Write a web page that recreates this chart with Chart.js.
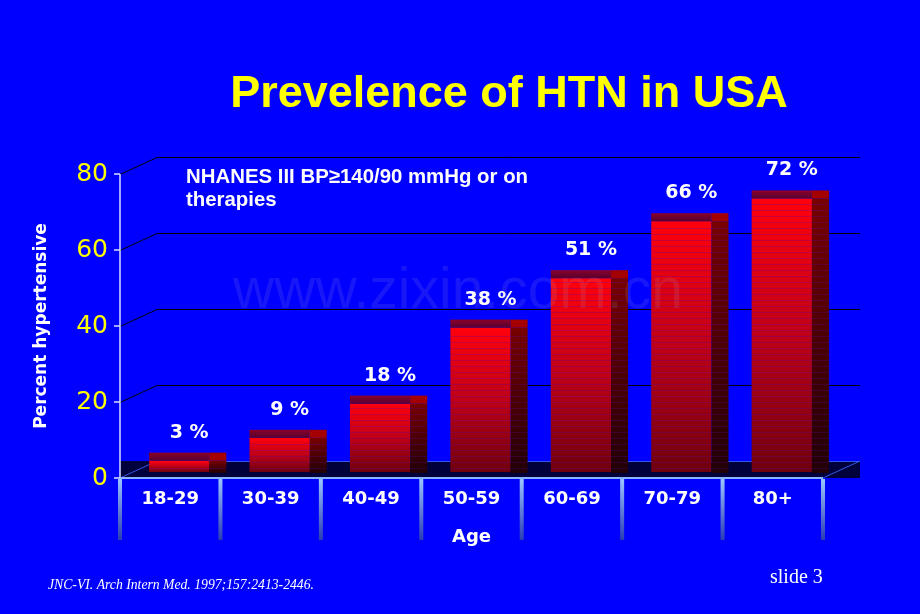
<!DOCTYPE html>
<html>
<head>
<meta charset="utf-8">
<script src="https://cdn.jsdelivr.net/npm/chart.js@4.4.0/dist/chart.umd.min.js"></script>
<style>
  html, body { margin: 0; padding: 0; background: #0000ff; }
  #wrap { width: 920px; height: 614px; }
</style>
</head>
<body>
<div id="wrap"><canvas id="chart" width="920" height="614"></canvas></div>
<script>
// data
const ageGroups = ["18-29", "30-39", "40-49", "50-59", "60-69", "70-79", "80+"];
const percentHypertensive = [3, 9, 18, 38, 51, 66, 72];
const yTicks = [0, 20, 40, 60, 80];
const valueLabels = ["3 %", "9 %", "18 %", "38 %", "51 %", "66 %", "72 %"];

const titleText = "Prevelence of HTN in USA";
const noteLines = ["NHANES III BP\u2265140/90 mmHg or on", "therapies"];
const sourceText = "JNC-VI. Arch Intern Med. 1997;157:2413-2446.";
const slideText = "slide 3";
const watermarkText = "www.zixin.com.cn";

// fake 3d look
const depth = { dx: 37, dy: -17 };
const barShift = { dx: 9, dy: -6 };
const sideW = 17;
const topH = 8;

const slidePlugin = {
  id: "slide",
  beforeDatasetsDraw(chart) {
    const { ctx, chartArea, scales: { x, y } } = chart;
    const left = chartArea.left, right = chartArea.right;
    const y0 = y.getPixelForValue(0);
    ctx.save();

    // floor
    ctx.fillStyle = "#00003c";
    ctx.fillRect(left, y0 + depth.dy, right - left + depth.dx, -depth.dy);

    // back wall grid lines
    ctx.strokeStyle = "#000000";
    ctx.lineWidth = 1;
    yTicks.forEach(v => {
      if (v === 0) return;
      const py = Math.round(y.getPixelForValue(v)) + 0.5;
      ctx.beginPath();
      ctx.moveTo(left, py);
      ctx.lineTo(left + depth.dx, py + depth.dy);
      ctx.lineTo(right + depth.dx, py + depth.dy);
      ctx.stroke();
    });

    // floor edges
    ctx.strokeStyle = "#2f5ae6";
    ctx.beginPath();
    ctx.moveTo(left + depth.dx, Math.round(y0 + depth.dy) + 0.5);
    ctx.lineTo(right + depth.dx, Math.round(y0 + depth.dy) + 0.5);
    ctx.moveTo(left, y0);
    ctx.lineTo(left + depth.dx, y0 + depth.dy);
    ctx.moveTo(right, y0);
    ctx.lineTo(right + depth.dx, y0 + depth.dy);
    ctx.stroke();

    // axis lines
    ctx.strokeStyle = "#d8e0ff";
    ctx.lineWidth = 1.5;
    ctx.beginPath();
    ctx.moveTo(left, y.getPixelForValue(80));
    ctx.lineTo(left, y0);
    yTicks.forEach(v => {
      const py = y.getPixelForValue(v);
      ctx.moveTo(left - 6, py);
      ctx.lineTo(left, py);
    });
    ctx.stroke();
    ctx.strokeStyle = "#8cb4ff";
    ctx.lineWidth = 2;
    ctx.beginPath();
    ctx.moveTo(left, y0);
    ctx.lineTo(right, y0);
    ctx.stroke();

    // long tick marks between categories
    const cat = (right - left) / ageGroups.length;
    for (let i = 0; i <= ageGroups.length; i++) {
      const px = left + i * cat;
      const g = ctx.createLinearGradient(0, y0, 0, y0 + 62);
      g.addColorStop(0, "#9cc8ff");
      g.addColorStop(1, "#2a3cb4");
      ctx.fillStyle = g;
      ctx.fillRect(px - 2, y0 + 1, 4, 61);
    }
    ctx.restore();
  },

  afterDatasetsDraw(chart) {
    const { ctx } = chart;
    const meta = chart.getDatasetMeta(0);
    ctx.save();
    meta.data.forEach((bar, i) => {
      const w = bar.width;
      const fl = bar.x - w / 2 + barShift.dx;
      const ft = bar.y + barShift.dy;
      const fb = bar.base + barShift.dy;
      const h = fb - ft;

      // front face
      let g = ctx.createLinearGradient(0, ft, 0, fb);
      g.addColorStop(0, "rgb(255,0,12)");
      g.addColorStop(0.5, "rgb(190,0,24)");
      g.addColorStop(1, "rgb(112,0,12)");
      ctx.fillStyle = g;
      ctx.fillRect(fl, ft, w, h);

      // side face
      g = ctx.createLinearGradient(0, ft, 0, fb + 1);
      g.addColorStop(0, "rgb(120,0,0)");
      g.addColorStop(1, "rgb(32,0,4)");
      ctx.fillStyle = g;
      ctx.fillRect(fl + w, ft, sideW, h + 1);

      // top face
      g = ctx.createLinearGradient(0, ft - topH, 0, ft);
      g.addColorStop(0, "rgb(140,0,40)");
      g.addColorStop(1, "rgb(85,0,50)");
      ctx.fillStyle = g;
      ctx.fillRect(fl, ft - topH, w, topH);
      ctx.fillStyle = "rgb(165,0,0)";
      ctx.fillRect(fl + w, ft - topH, sideW, topH);

      // banding of the old slide render
      ctx.fillStyle = "rgba(90,0,170,0.28)";
      for (let yy = fb - 4; yy > ft + 3; yy -= 6) {
        ctx.fillRect(fl, Math.round(yy), w + sideW, 1);
      }

      // value label
      ctx.fillStyle = "#ffffff";
      ctx.font = "bold 19px 'DejaVu Sans'";
      ctx.textAlign = "center";
      ctx.textBaseline = "middle";
      ctx.fillText(valueLabels[i], bar.x + 19, ft - topH - 20);
    });

    // faint watermark over the bars
    ctx.fillStyle = "rgba(175,175,190,0.13)";
    ctx.font = "57px 'Liberation Sans'";
    ctx.textAlign = "center";
    ctx.textBaseline = "alphabetic";
    ctx.fillText(watermarkText, 458, 308);
    ctx.restore();
  },

  afterDraw(chart) {
    const { ctx } = chart;
    ctx.save();
    ctx.textBaseline = "alphabetic";

    ctx.fillStyle = "#ffff00";
    ctx.font = "bold 45px 'Liberation Sans'";
    ctx.textAlign = "center";
    ctx.fillText(titleText, 509, 107);

    ctx.fillStyle = "#ffffff";
    ctx.font = "bold 20.4px 'Liberation Sans'";
    ctx.textAlign = "left";
    ctx.fillText(noteLines[0], 186, 183);
    ctx.fillText(noteLines[1], 186, 206);

    ctx.font = "italic 13.7px 'Liberation Serif'";
    ctx.fillText(sourceText, 48, 589);

    ctx.font = "20px 'Liberation Serif'";
    ctx.fillText(slideText, 770, 583);
    ctx.restore();
  }
};

const ctx = document.getElementById("chart").getContext("2d");
new Chart(ctx, {
  type: "bar",
  data: {
    labels: ageGroups,
    datasets: [
      {
        label: "Percent hypertensive",
        data: percentHypertensive,
        backgroundColor: "rgba(0,0,0,0)",
        borderWidth: 0,
        barPercentage: 0.6,
        categoryPercentage: 1.0,
      },
    ],
  },
  options: {
    responsive: false,
    animation: false,
    layout: { padding: { left: 0, top: 174, right: 97, bottom: 56 } },
    plugins: {
      legend: { display: false },
      tooltip: { enabled: false },
      title: { display: false },
    },
    scales: {
      x: {
        grid: { display: false, drawTicks: false },
        border: { display: false },
        ticks: {
          color: "#ffffff",
          font: { family: "DejaVu Sans", size: 18, weight: "bold" },
          padding: 11,
          maxRotation: 0,
        },
        title: {
          display: true,
          text: "Age",
          color: "#ffffff",
          font: { family: "DejaVu Sans", size: 18, weight: "bold" },
          padding: { top: 0, bottom: 10 },
        },
        afterFit(scale) {
          scale.height = 80;
        },
      },
      y: {
        min: 0,
        max: 80,
        grid: { display: false, drawTicks: false },
        border: { display: false },
        ticks: {
          stepSize: 20,
          color: "#ffff00",
          font: { family: "DejaVu Sans", size: 25 },
          padding: 12,
        },
        title: {
          display: true,
          text: "Percent hypertensive",
          color: "#ffffff",
          font: { family: "DejaVu Sans", size: 17, weight: "bold" },
          padding: { top: 31, bottom: 0 },
        },
        afterFit(scale) {
          scale.width = 120;
        },
      },
    },
  },
  plugins: [slidePlugin],
});
</script>
</body>
</html>
